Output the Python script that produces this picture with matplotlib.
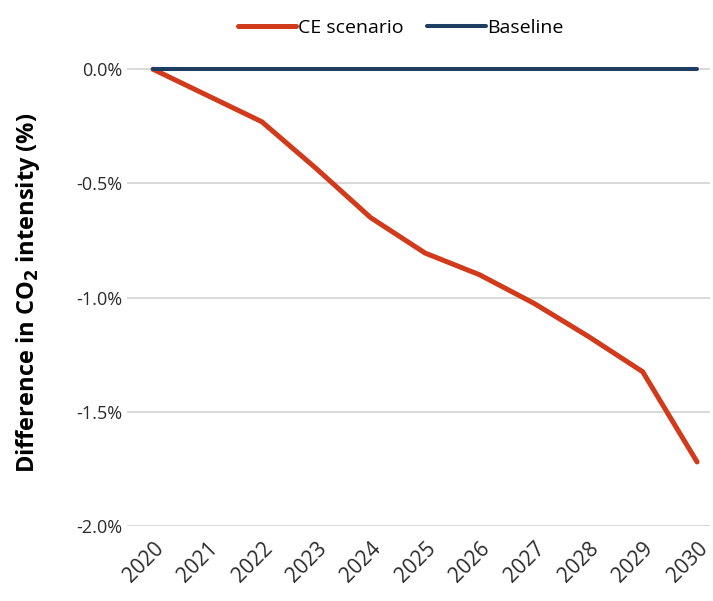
import numpy as np
import matplotlib
matplotlib.use("Agg")
import matplotlib.pyplot as plt
from matplotlib.ticker import FuncFormatter

# data
years = [2020, 2021, 2022, 2023, 2024, 2025, 2026, 2027, 2028, 2029, 2030]
ce_scenario = [0.0, -0.115, -0.23, -0.435, -0.65, -0.805, -0.90, -1.025, -1.17, -1.325, -1.72]
baseline = [0.0] * len(years)
y_ticks = [0.0, -0.5, -1.0, -1.5, -2.0]

red = "#d13a1a"
navy = "#1d3d63"

plt.rcParams["font.family"] = ["Open Sans", "DejaVu Sans"]

fig = plt.figure(figsize=(7.13, 6.01), dpi=100)
ax = fig.add_axes([0.178, 0.125, 0.818, 0.775])

ax.plot(years, ce_scenario, color=red, lw=3.6, label="CE scenario", solid_capstyle="round")
ax.plot(years, baseline, color=navy, lw=2.9, label="Baseline", solid_capstyle="round")

ax.set_xlim(2019.52, 2030.24)
ax.set_ylim(-2.0, 0.04)
ax.set_yticks(y_ticks)
ax.yaxis.set_major_formatter(FuncFormatter(lambda v, p: f"{v:.1f}%"))
ax.set_xticks(years)
ax.set_xticklabels([str(y) for y in years], rotation=45, ha="right",
                   rotation_mode="anchor", fontsize=15)
ax.tick_params(axis="y", labelsize=13, length=0, pad=3)
ax.tick_params(axis="x", length=0, pad=9)
for lab in ax.get_yticklabels() + ax.get_xticklabels():
    lab.set_color("#2b2b2b")

ax.grid(axis="y", color="#d9d9d9", lw=1.4)
ax.set_axisbelow(True)
for s in ax.spines.values():
    s.set_visible(False)

ax.set_ylabel(r"Difference in CO$_{\mathbf{2}}$ intensity (%)", fontsize=17,
              fontweight="bold")
ax.yaxis.set_label_coords(-0.145, 0.5)

ax.legend(loc="lower center", bbox_to_anchor=(0.47, 1.012), ncol=2, frameon=False,
          fontsize=14, handlelength=3.0, handletextpad=0.1, columnspacing=1.2)

fig.savefig("out.png", dpi=100)
